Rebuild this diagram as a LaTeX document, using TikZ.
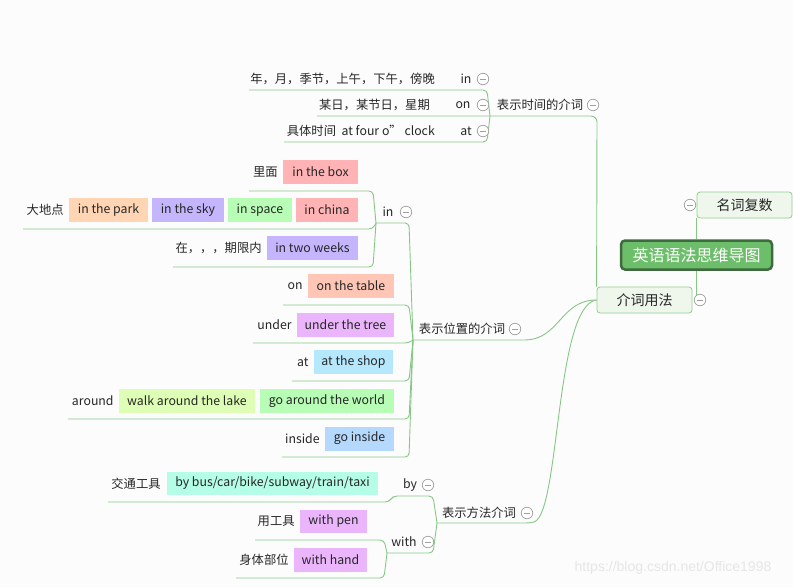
\documentclass[tikz,border=0pt]{standalone}
\usepackage{fontspec}
\setmainfont{Noto Sans CJK SC}
\newfontfamily\wmfont{Liberation Sans}
\usetikzlibrary{positioning,backgrounds}
\definecolor{bgc}{HTML}{FCFCFC}
\definecolor{ink}{HTML}{262626}
\definecolor{lg}{HTML}{86C786}
\definecolor{tfill}{HTML}{EFF7EC}
\definecolor{tbord}{HTML}{8FD08F}
\definecolor{rfill}{HTML}{6DBE6A}
\definecolor{rbord}{HTML}{3E6B3E}
\definecolor{cpink}{HTML}{FFB3B5}
\definecolor{cpeach}{HTML}{FFD5B3}
\definecolor{clav}{HTML}{C4B5FD}
\definecolor{cgreen}{HTML}{B8FDB5}
\definecolor{csalmon}{HTML}{FFC5B5}
\definecolor{cviolet}{HTML}{EBB5FB}
\definecolor{csky}{HTML}{B5E8FD}
\definecolor{clime}{HTML}{DEFDB5}
\definecolor{cblue}{HTML}{B5D8FD}
\definecolor{cmint}{HTML}{B5FDE6}
\definecolor{wm}{HTML}{E6E6E6}
\begin{document}
\begin{tikzpicture}[x=1pt,y=-1pt,
  txt/.style={inner sep=0pt, text=ink, font=\fontsize{12.3}{14}\selectfont},
  hl/.style={txt, fill=#1, minimum height=24pt},
  cbtn/.style={circle, draw=gray!75, fill=white, line width=0.7pt, minimum size=11.5pt, inner sep=0pt,
    path picture={\draw[gray!75, line width=0.7pt] ([xshift=2.6pt]path picture bounding box.west) -- ([xshift=-2.6pt]path picture bounding box.east);}},
  topic/.style={draw=tbord, fill=tfill, rounded corners=3pt, line width=0.8pt, minimum height=26pt, inner sep=0pt,
    text=ink, font=\fontsize{14}{16}\selectfont},
  rootnode/.style={draw=rbord, fill=rfill, rounded corners=4pt, line width=2.5pt, minimum height=29pt, inner sep=0pt,
    text=white, font=\fontsize{16}{18}\selectfont},
  conn/.style={draw=lg, line width=0.9pt, rounded corners=4pt}
]
\begin{pgfonlayer}{background}
\fill[bgc] (0,0) rectangle (793,587);
\end{pgfonlayer}
\useasboundingbox (0,0) rectangle (793,587);

% ---------- root and main topics ----------
\node[rootnode, minimum width=151pt] (root) at (696.5,255) {英语语法思维导图};
\node[topic, minimum width=95pt] (nc) at (744.5,205) {名词复数};
\node[cbtn] (ncb) at (690,205) {};
\node[topic, minimum width=95pt] (jc) at (644.5,300) {介词用法};
\node[cbtn] (jcb) at (700,300) {};

% ---------- time ----------
\node[txt] (tt) at (540,105) {表示时间的介词};
\node[cbtn] (ttb) at (593,105) {};
\node[txt] (tin) at (466,79) {in};
\node[cbtn] (tinb) at (483,79) {};
\node[txt, anchor=east] (tinc) at (435,79) {年，月，季节，上午，下午，傍晚};
\node[txt] (ton) at (463,105) {on};
\node[cbtn] (tonb) at (483,105) {};
\node[txt, anchor=east] (tonc) at (430,105) {某日，某节日，星期};
\node[txt] (tat) at (466,131) {at};
\node[cbtn] (tatb) at (483,131) {};
\node[txt, anchor=east] (tatc) at (435,131) {具体时间\ \ at four o” clock};

% ---------- place ----------
\node[txt] (pp) at (462,329) {表示位置的介词};
\node[cbtn] (ppb) at (515,329) {};
\node[txt] (pin) at (388,212) {in};
\node[cbtn] (pinb) at (406,212) {};
\node[hl=cpink, minimum width=75pt] (box1) at (320.5,172) {in the box};
\node[txt, left=5pt of box1] (lm) {里面};
\node[hl=cpeach, minimum width=79pt] (park) at (108.5,210) {in the park};
\node[hl=clav, minimum width=72pt] (sky) at (188,210) {in the sky};
\node[hl=cgreen, minimum width=64pt] (space) at (260,210) {in space};
\node[hl=cpink, minimum width=62pt] (china) at (327,210) {in china};
\node[txt, left=5pt of park] (ddd) {大地点};
\node[hl=clav, minimum width=91pt] (weeks) at (312.5,248) {in two weeks};
\node[txt, left=5pt of weeks] (qx) {在，，，期限内};

\node[hl=csalmon, minimum width=86pt] (table) at (351,286) {on the table};
\node[txt, left=5pt of table] (pon) {on};
\node[hl=cviolet, minimum width=97pt] (tree) at (345.5,324.5) {under the tree};
\node[txt, left=5pt of tree] (punder) {under};
\node[hl=csky, minimum width=79pt] (shop) at (353.5,362) {at the shop};
\node[txt, left=5pt of shop] (pat) {at};
\node[hl=clime, minimum width=136pt] (lake) at (187,401) {walk around the lake};
\node[hl=cgreen, minimum width=134pt] (world) at (327,401) {go around the world};
\node[txt, left=5pt of lake] (paround) {around};
\node[hl=cblue, minimum width=69pt] (goin) at (359.5,438.5) {go inside};
\node[txt, left=5pt of goin] (pinside) {inside};

% ---------- method ----------
\node[txt] (mm) at (479,513) {表示方法介词};
\node[cbtn] (mmb) at (527,513) {};
\node[txt] (mby) at (410,485) {by};
\node[cbtn] (mbyb) at (428,485) {};
\node[hl=cmint, minimum width=211pt, minimum height=23pt] (bus) at (272.5,483.5) {by bus/car/bike/subway/train/taxi};
\node[txt, left=6pt of bus] (jt) {交通工具};
\node[txt] (mwith) at (404,542) {with};
\node[cbtn] (mwithb) at (428,542) {};
\node[hl=cviolet, minimum width=67pt, minimum height=23pt] (pen) at (333.5,521.5) {with pen};
\node[txt, left=5pt of pen] (ygj) {用工具};
\node[hl=cviolet, minimum width=73pt] (hand) at (330.5,560) {with hand};
\node[txt, left=5pt of hand] (stbw) {身体部位};

\node[font=\wmfont\fontsize{14}{16}\selectfont, text=wm, inner sep=0pt] (wmk) at (673,568) {https://blog.csdn.net/Office1998};

% ---------- coordinates ----------
\coordinate (tP) at (490,116);
\coordinate (tinL) at (249,90);
\coordinate (tonL) at (317,116);
\coordinate (tatL) at (284,142);
\coordinate (pP) at (413,340);
\coordinate (iP) at (376,223);
\coordinate (mP) at (437,523);
\coordinate (wP) at (387,553);

% ---------- connectors (behind) ----------
\begin{pgfonlayer}{background}
\draw[conn] (nc.south west) -- (nc.south west |- root.north);
\draw[conn] (root.south) -- (root.south |- jc.east);
% time
\draw[conn, rounded corners=6pt] (tonL) -- (597,116) -- (jc.north west);
\draw[conn] (tinL) -- (487,90) -- (tP);
\draw[conn] (tatL) -- (487,142) -- (tP);
% place
\draw[conn] (pP) -- (520,340) .. controls (560,340) and (560,300) .. (jc.west);
\draw[conn] (iP) -- (409,223) -- (pP);
\draw[conn] (283,305) -- (409,305) -- (pP);
\draw[conn] (253,343) -- (409,343) -- (pP);
\draw[conn] (292,381) -- (409,381) -- (pP);
\draw[conn] (68,419) -- (409,419) -- (pP);
\draw[conn] (282,457) -- (409,457) -- (pP);
\draw[conn] (249,191) -- (373,191) -- (iP);
\draw[conn] (23,229) -- (373,229) -- (iP);
\draw[conn] (173,267) -- (373,267) -- (iP);
% method
\draw[conn] (mP) -- (530,523) .. controls (560,515) and (555,305) .. (jc.west);
\draw[conn] (108,502) -- (389,502) -- (393,496) -- (433,496) -- (mP);
\draw[conn] (wP) -- (433,553) -- (mP);
\draw[conn] (255,540) -- (384,540) -- (wP);
\draw[conn] (236,578) -- (384,578) -- (wP);
\end{pgfonlayer}
\end{tikzpicture}
\end{document}
